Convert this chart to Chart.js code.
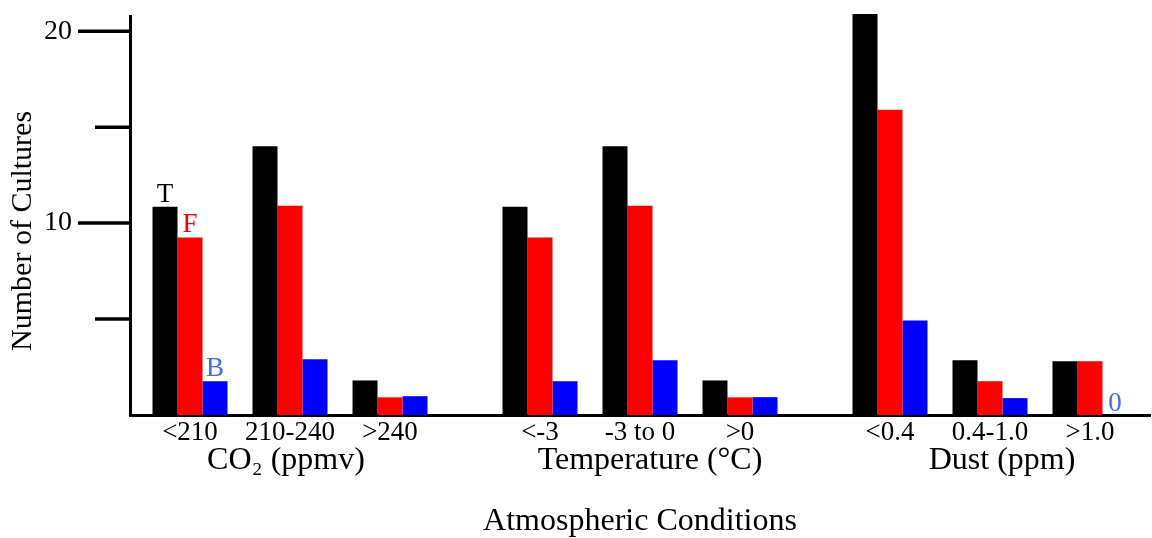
<!DOCTYPE html>
<html>
<head>
<meta charset="utf-8">
<script src="https://cdn.jsdelivr.net/npm/chart.js@4"></script>
<style>
  html, body { margin: 0; padding: 0; background: #fff; }
</style>
</head>
<body>
<canvas id="chart" width="1152" height="538"></canvas>
<script>
// カテゴリ
const categoryLabels = ['<210', '210-240', '>240', '<-3', '-3 to 0', '>0', '<0.4', '0.4-1.0', '>1.0'];
const categoryPos = [0, 1, 2, 3.5, 4.5, 5.5, 7, 8, 9];
// グループ
const groupLabels = ['CO₂ (ppmv)', 'Temperature (°C)', 'Dust (ppm)'];
const groupPos = [0.96, 4.6, 8.12];
// 系列データ
const seriesNames = ['T', 'F', 'B'];
const tValues = [10.85, 14.0, 1.8, 10.85, 14.0, 1.8, 20.9, 2.85, 2.8];
const fValues = [9.25, 10.9, 0.92, 9.25, 10.9, 0.92, 15.9, 1.76, 2.8];
const bValues = [1.76, 2.9, 0.98, 1.76, 2.85, 0.93, 4.93, 0.88, 0];
// y軸目盛
const yTickValues = [5, 10, 15, 20];
const yTickLabels = ['', '10', '', '20'];
const yTitle = 'Number of Cultures';

const serif = '"Liberation Serif", "DejaVu Serif", serif';
const colors = ['#000000', '#ff0000', '#0000ff'];
const tagColors = ['#000000', '#ff0000', '#3f6ef0'];

// 目盛線・軸タイトル・グループ名・系列タグを描く
const extras = {
  id: 'extras',
  afterDraw(chart) {
    const c = chart.ctx;
    const area = chart.chartArea;
    const ys = chart.scales.y;
    const xs = chart.scales.x;
    c.save();
    // y軸の目盛線
    c.strokeStyle = '#000';
    c.lineWidth = 3.5;
    yTickValues.forEach(v => {
      const y = ys.getPixelForValue(v);
      const len = v % 10 === 0 ? 52 : 35;
      c.beginPath();
      c.moveTo(area.left - len, y);
      c.lineTo(area.left, y);
      c.stroke();
    });
    // y軸タイトル
    c.fillStyle = '#000';
    c.font = '30px ' + serif;
    c.textAlign = 'center';
    c.textBaseline = 'middle';
    c.save();
    c.translate(23, (area.top + area.bottom) / 2 + 15);
    c.rotate(-Math.PI / 2);
    c.fillText(yTitle, 0, 0);
    c.restore();
    // グループ名
    c.font = '32px ' + serif;
    c.textBaseline = 'alphabetic';
    groupLabels.forEach((g, i) => {
      c.fillText(g, xs.getPixelForValue(groupPos[i]), area.bottom + 54);
    });
    // 系列タグ (T, F, B)
    c.font = '27px ' + serif;
    seriesNames.forEach((s, i) => {
      const bar = chart.getDatasetMeta(i).data[0];
      c.fillStyle = tagColors[i];
      c.fillText(s, bar.x, bar.y - 5);
    });
    // 値0のラベル
    const zeroBar = chart.getDatasetMeta(2).data[8];
    c.fillStyle = tagColors[2];
    c.fillText(String(bValues[8]), zeroBar.x, zeroBar.y - 4);
    c.restore();
  }
};

function toPoints(values) {
  return categoryPos.map((x, i) => ({ x: x, y: values[i] }));
}

new Chart(document.getElementById('chart'), {
  type: 'bar',
  data: {
    datasets: [
      { label: seriesNames[0], data: toPoints(tValues), backgroundColor: colors[0] },
      { label: seriesNames[1], data: toPoints(fValues), backgroundColor: colors[1] },
      { label: seriesNames[2], data: toPoints(bValues), backgroundColor: colors[2] }
    ]
  },
  options: {
    responsive: false,
    animation: false,
    layout: { padding: { top: 15, right: 2, bottom: 0, left: 0 } },
    datasets: { bar: { categoryPercentage: 0.75, barPercentage: 1.0, clip: false } },
    plugins: { legend: { display: false }, tooltip: { enabled: false } },
    scales: {
      x: {
        type: 'linear',
        offset: false,
        min: -0.6,
        max: 9.6,
        grid: { display: false, drawTicks: false, offset: false },
        border: { display: true, color: '#000', width: 3 },
        afterBuildTicks: s => { s.ticks = categoryPos.map(v => ({ value: v })); },
        afterFit: s => { s.height = 123; },
        ticks: {
          autoSkip: false,
          maxRotation: 0,
          padding: 2,
          color: '#000',
          font: { family: serif, size: 27 },
          callback: (v, i) => categoryLabels[i]
        },
        title: {
          display: true,
          text: 'Atmospheric Conditions',
          color: '#000',
          font: { family: serif, size: 32, lineHeight: 1.0 },
          padding: 0
        }
      },
      y: {
        min: 0,
        max: 20.75,
        grid: { display: true, drawOnChartArea: false, drawTicks: true, tickLength: 58, tickColor: 'rgba(0,0,0,0)' },
        border: { display: true, color: '#000', width: 3 },
        afterBuildTicks: s => { s.ticks = yTickValues.map(v => ({ value: v })); },
        afterFit: s => { s.width = 130; },
        ticks: {
          padding: 0,
          color: '#000',
          font: { family: serif, size: 28 },
          callback: (v, i) => yTickLabels[i]
        },
        title: { display: false }
      }
    }
  },
  plugins: [extras]
});
</script>
</body>
</html>
